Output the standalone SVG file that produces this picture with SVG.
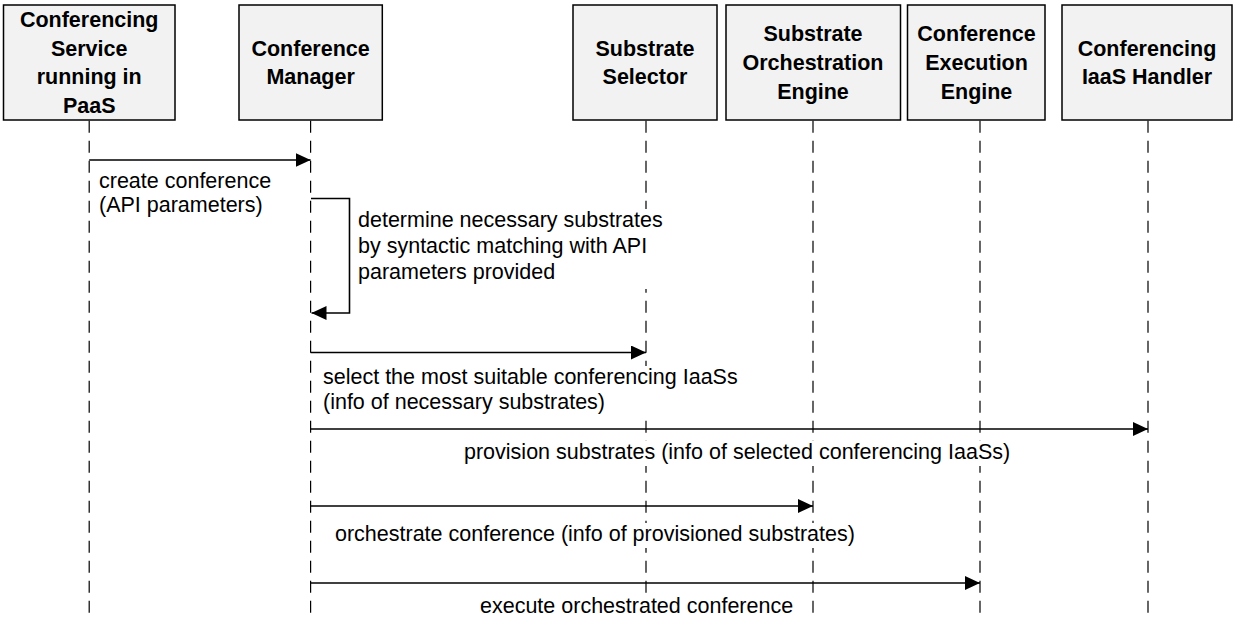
<svg xmlns="http://www.w3.org/2000/svg" width="1234" height="620" viewBox="0 0 1234 620">
  <style>
    .box { fill: #f2f2f2; stroke: #000; stroke-width: 1.5; }
    .title { font-family: "Liberation Sans", Arial, sans-serif; font-size: 21.5px; font-weight: bold; fill: #000; text-anchor: middle; }
    .life { stroke: #000; stroke-width: 1.2; stroke-dasharray: 12 8; fill: none; }
    .msg { stroke: #000; stroke-width: 1.6; fill: none; marker-end: url(#arrow); }
    .lbl { font-family: "Liberation Sans", Arial, sans-serif; font-size: 21.5px; fill: #000; }
    .bg { fill: #fff; stroke: none; }
  </style>
  <defs>
    <marker id="arrow" markerUnits="userSpaceOnUse" markerWidth="15" markerHeight="14" refX="15" refY="7" orient="auto">
      <path d="M0,0 L15,7 L0,14 Z" fill="#000"/>
    </marker>
  </defs>

  <rect width="1234" height="620" fill="#fff"/>

  <!-- participants: header box, name and lifeline -->
  <g id="conferencing-service">
    <rect class="box" x="3.5" y="5" width="171.5" height="115"/>
    <text class="title" x="89.2" y="27">Conferencing</text>
    <text class="title" x="89.2" y="55.5">Service</text>
    <text class="title" x="89.2" y="84.2">running in</text>
    <text class="title" x="89.2" y="113">PaaS</text>
    <line class="life" x1="89.2" y1="120.8" x2="89.2" y2="620"/>
  </g>
  <g id="conference-manager">
    <rect class="box" x="239" y="5" width="143.3" height="115"/>
    <text class="title" x="310.6" y="55.5">Conference</text>
    <text class="title" x="310.6" y="84.2">Manager</text>
    <line class="life" x1="310.6" y1="120.8" x2="310.6" y2="620"/>
  </g>
  <g id="substrate-selector">
    <rect class="box" x="573" y="5" width="144" height="115"/>
    <text class="title" x="645" y="55.5">Substrate</text>
    <text class="title" x="645" y="84.2">Selector</text>
    <line class="life" x1="646" y1="120.8" x2="646" y2="620"/>
  </g>
  <g id="substrate-orchestration-engine">
    <rect class="box" x="726" y="5" width="174.5" height="115"/>
    <text class="title" x="813" y="41">Substrate</text>
    <text class="title" x="813" y="69.8">Orchestration</text>
    <text class="title" x="813" y="98.5">Engine</text>
    <line class="life" x1="813" y1="120.8" x2="813" y2="620"/>
  </g>
  <g id="conference-execution-engine">
    <rect class="box" x="907.5" y="5" width="137.5" height="115"/>
    <text class="title" x="976.5" y="41">Conference</text>
    <text class="title" x="976.5" y="69.8">Execution</text>
    <text class="title" x="976.5" y="98.5">Engine</text>
    <line class="life" x1="980" y1="120.8" x2="980" y2="620"/>
  </g>
  <g id="conferencing-iaas-handler">
    <rect class="box" x="1062" y="5" width="170" height="115"/>
    <text class="title" x="1147" y="55.5">Conferencing</text>
    <text class="title" x="1147" y="84.2">IaaS Handler</text>
    <line class="life" x1="1148" y1="120.8" x2="1148" y2="620"/>
  </g>

  <!-- messages -->
  <g id="connectors">
    <!-- label backgrounds mask the lifelines they cross -->
    <rect class="bg" x="354" y="209" width="316" height="80"/>
    <rect class="bg" x="318" y="366" width="424" height="50"/>
    <rect class="bg" x="458" y="441" width="554" height="25"/>
    <rect class="bg" x="330" y="523" width="538" height="25"/>
    <rect class="bg" x="474" y="595" width="326" height="25"/>

    <line class="msg" x1="89.2" y1="160" x2="310.6" y2="160"/>
    <text class="lbl" x="99" y="188">create conference</text>
    <text class="lbl" x="99" y="212">(API parameters)</text>

    <path class="msg" d="M311,198.5 H349.5 V313 H311.5"/>
    <text class="lbl" x="358" y="227">determine necessary substrates</text>
    <text class="lbl" x="358" y="253">by syntactic matching with API</text>
    <text class="lbl" x="358" y="279">parameters provided</text>

    <line class="msg" x1="310.6" y1="352.5" x2="646" y2="352.5"/>
    <text class="lbl" x="323" y="384">select the most suitable conferencing IaaSs</text>
    <text class="lbl" x="323" y="409">(info of necessary substrates)</text>

    <line class="msg" x1="310.6" y1="429" x2="1148" y2="429"/>
    <text class="lbl" x="464" y="459">provision substrates (info of selected conferencing IaaSs)</text>

    <line class="msg" x1="310.6" y1="506" x2="813" y2="506"/>
    <text class="lbl" x="335" y="541">orchestrate conference (info of provisioned substrates)</text>

    <line class="msg" x1="310.6" y1="583" x2="980" y2="583"/>
    <text class="lbl" x="480" y="613">execute orchestrated conference</text>
  </g>
</svg>
